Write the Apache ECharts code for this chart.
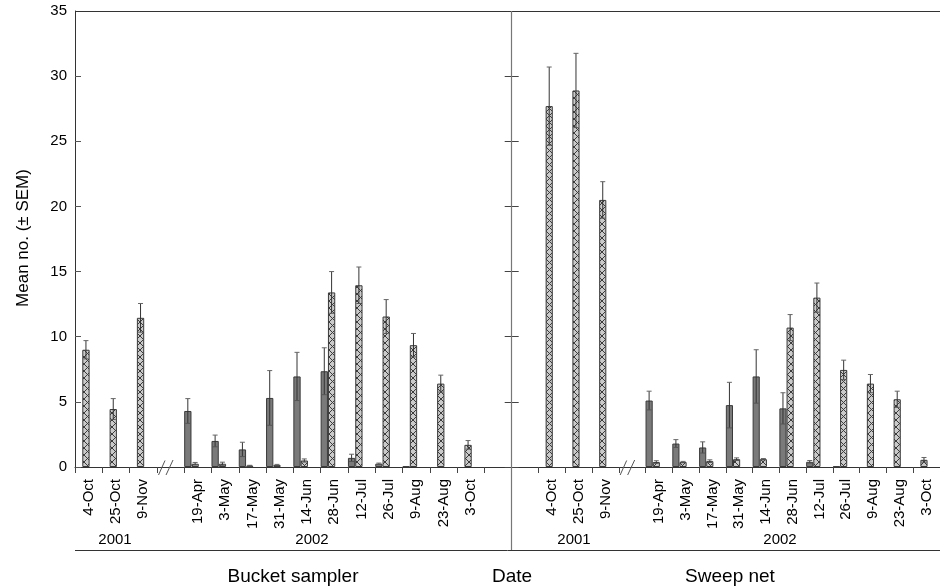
<!DOCTYPE html>
<html><head><meta charset="utf-8">
<script src="https://cdn.jsdelivr.net/npm/echarts@6/dist/echarts.min.js"></script>
<style>html,body{margin:0;padding:0;background:#fff}#c{width:940px;height:588px}</style>
</head><body><div id="c"></div><script>
// ---- data ----
const bucketCategories = ['4-Oct','25-Oct','9-Nov','','19-Apr','3-May','17-May','31-May','14-Jun','28-Jun','12-Jul','26-Jul','9-Aug','23-Aug','3-Oct',''];
const sweepCategories  = ['','4-Oct','25-Oct','9-Nov','','19-Apr','3-May','17-May','31-May','14-Jun','28-Jun','12-Jul','26-Jul','9-Aug','23-Aug','3-Oct'];

const bucketDark       = [null,null,null,null,4.3,2.0,1.35,5.3,6.95,7.35,0.7,0.25,0.05,null,null,null];
const bucketDarkSem    = [null,null,null,null,0.95,0.45,0.55,2.1,1.85,1.8,0.28,0.05,0,null,null,null];
const bucketHatched    = [9.0,4.45,11.45,null,0.25,0.25,0.1,0.15,0.5,13.4,13.95,11.55,9.35,6.4,1.7,null];
const bucketHatchedSem = [0.7,0.8,1.1,null,0.1,0.12,0.03,0.05,0.12,1.6,1.4,1.3,0.9,0.65,0.33,null];

const sweepDark        = [null,null,null,null,null,5.1,1.8,1.5,4.75,6.95,4.5,0.4,0.05,null,null,null];
const sweepDarkSem     = [null,null,null,null,null,0.72,0.3,0.43,1.75,2.05,1.2,0.1,0,null,null,null];
const sweepHatched     = [null,27.7,28.9,20.5,null,0.38,0.38,0.45,0.6,0.6,10.7,13.0,7.45,6.4,5.2,0.55];
const sweepHatchedSem  = [null,3.0,2.85,1.4,null,0.1,0.05,0.1,0.1,0.05,1.0,1.12,0.75,0.7,0.62,0.18];

const bucketBreakIndex = 3;
const sweepBreakIndex = 4;
const yMin = 0, yMax = 35, yStep = 5;
const yearLabels = ['2001','2002','2001','2002'];
const panelTitles = ['Bucket sampler','Date','Sweep net'];
const yTitle = 'Mean no. (\u00B1 SEM)';

// ---- styling ----
const FONT = "'Liberation Sans', Arial, Helvetica, sans-serif";
const BAR_FRAC = 0.2675; // bar width as fraction of category band
function hatch(){
  const c = document.createElement('canvas'); c.width = 7; c.height = 7;
  const g = c.getContext('2d');
  g.fillStyle = '#cacaca'; g.fillRect(0,0,7,7);
  g.strokeStyle = '#3c3c3c'; g.lineWidth = 1;
  g.beginPath(); g.moveTo(0,0); g.lineTo(7,7); g.moveTo(7,0); g.lineTo(0,7); g.stroke();
  return c;
}
const hatchFill = {image: hatch(), repeat: 'repeat'};

function errData(vals, sems){
  const out = [];
  vals.forEach((v,i)=>{ if(v!=null && sems[i]!=null && sems[i]>0) out.push([i, v, sems[i]]); });
  return out;
}
function errSeries(vals, sems, k, xi, yi){
  return {
    type:'custom', xAxisIndex:xi, yAxisIndex:yi, silent:true, z:5,
    data: errData(vals, sems),
    renderItem: function(params, api){
      const i = api.value(0), v = api.value(1), s = api.value(2);
      const c = api.coord([i, v]);
      const band = api.size([1,0])[0];
      const bw = band*BAR_FRAC;
      const x = c[0] - band/2 + bw*(k+0.5);
      const top = api.coord([i, v+s])[1];
      const bot = api.coord([i, Math.max(v-s,0)])[1];
      const st = {stroke:'#333', lineWidth:1};
      return {type:'group', children:[
        {type:'line', shape:{x1:x, y1:top, x2:x, y2:bot}, style:st},
        {type:'line', shape:{x1:x-2.5, y1:top, x2:x+2.5, y2:top}, style:{stroke:'#666', lineWidth:1}},
        {type:'line', shape:{x1:x-2.5, y1:bot, x2:x+2.5, y2:bot}, style:{stroke:'#555', lineWidth:1}}
      ]};
    }
  };
}
function breakSeries(idx, xi, yi){
  return {
    type:'custom', xAxisIndex:xi, yAxisIndex:yi, silent:true, z:6,
    data:[[idx, 0]],
    renderItem: function(params, api){
      const c = api.coord([api.value(0), api.value(1)]);
      const st = {stroke:'#555', lineWidth:1};
      return {type:'group', children:[
        {type:'line', shape:{x1:c[0]-12, y1:c[1]+8, x2:c[0]-5.5, y2:c[1]-6.5}, style:st},
        {type:'line', shape:{x1:c[0]-4.5, y1:c[1]+8, x2:c[0]+2.5, y2:c[1]-7}, style:st}
      ]};
    }
  };
}
function barSeries(vals, fill, xi, yi){
  return {type:'bar', xAxisIndex:xi, yAxisIndex:yi, data:vals, barWidth:(BAR_FRAC*100)+'%', barGap:'0%',
    itemStyle:{color:fill, borderColor: '#3a3a3a', borderWidth:1}, silent:true, z:3};
}
function fillerSeries(n, xi, yi){
  return {type:'bar', xAxisIndex:xi, yAxisIndex:yi, data:new Array(n).fill(null),
    barWidth:((1-2*BAR_FRAC)*100)+'%', barGap:'0%', silent:true};
}
function xAxis(cats, gi){
  return {type:'category', gridIndex:gi, data:cats, boundaryGap:true,
    axisLine:{show:true, lineStyle:{color:'#333', width:1}},
    axisTick:{show:true, alignWithLabel:false, interval:0, length:6, lineStyle:{color:'#444'}},
    axisLabel:{interval:0, rotate:90, margin:12, fontSize:15, color:'#000', fontFamily:FONT},
    splitLine:{show:false}};
}

const chart = echarts.init(document.getElementById('c'), null, {renderer:'canvas'});
const band = 436.7;
chart.setOption({
  animation:false,
  backgroundColor:'#fff',
  grid:[
    {left:75, top:11, width:band, height:456},
    {left:75+band, top:11, width:band, height:456}
  ],
  xAxis:[xAxis(bucketCategories,0), xAxis(sweepCategories,1)],
  yAxis:[
    {type:'value', gridIndex:0, min:yMin, max:yMax, interval:yStep,
     axisLine:{show:true, lineStyle:{color:'#333'}},
     axisTick:{show:true, inside:true, length:6, lineStyle:{color:'#555'}},
     axisLabel:{fontSize:15, color:'#000', margin:8, fontFamily:FONT},
     splitLine:{show:false}},
    {type:'value', gridIndex:1, min:yMin, max:yMax, interval:yStep, position:'left',
     axisLine:{show:false}, axisTick:{show:true, inside:false, length:7, lineStyle:{color:'#444'}},
     axisLabel:{show:false}, splitLine:{show:false}},
    {type:'value', gridIndex:1, min:yMin, max:yMax, interval:yStep, position:'left', offset:0,
     axisLine:{show:false}, axisTick:{show:true, inside:true, length:7, lineStyle:{color:'#444'}},
     axisLabel:{show:false}, splitLine:{show:false}}
  ],
  series:[
    barSeries(bucketDark, '#7a7a7a', 0, 0),
    barSeries(bucketHatched, hatchFill, 0, 0),
    fillerSeries(bucketCategories.length, 0, 0),
    barSeries(sweepDark, '#7a7a7a', 1, 1),
    barSeries(sweepHatched, hatchFill, 1, 1),
    fillerSeries(sweepCategories.length, 1, 1),
    errSeries(bucketDark, bucketDarkSem, 0, 0, 0),
    errSeries(bucketHatched, bucketHatchedSem, 1, 0, 0),
    errSeries(sweepDark, sweepDarkSem, 0, 1, 1),
    errSeries(sweepHatched, sweepHatchedSem, 1, 1, 1),
    breakSeries(bucketBreakIndex, 0, 0),
    breakSeries(sweepBreakIndex, 1, 1)
  ],
  graphic:[
    {type:'line', shape:{x1:75, y1:11.5, x2:940, y2:11.5}, style:{stroke:'#333', lineWidth:1}, z:10},
    {type:'line', shape:{x1:511.5, y1:11, x2:511.5, y2:551}, style:{stroke:'#777', lineWidth:1.2}, z:10},
    {type:'line', shape:{x1:75, y1:550.5, x2:940, y2:550.5}, style:{stroke:'#333', lineWidth:1}, z:10},
    {type:'text', x:115, y:540, style:{text:yearLabels[0], font:'15px '+FONT, fill:'#000', textAlign:'center', textVerticalAlign:'middle'}},
    {type:'text', x:312, y:540, style:{text:yearLabels[1], font:'15px '+FONT, fill:'#000', textAlign:'center', textVerticalAlign:'middle'}},
    {type:'text', x:574, y:540, style:{text:yearLabels[2], font:'15px '+FONT, fill:'#000', textAlign:'center', textVerticalAlign:'middle'}},
    {type:'text', x:780, y:540, style:{text:yearLabels[3], font:'15px '+FONT, fill:'#000', textAlign:'center', textVerticalAlign:'middle'}},
    {type:'text', x:293, y:577, style:{text:panelTitles[0], font:'19px '+FONT, fill:'#000', textAlign:'center', textVerticalAlign:'middle'}},
    {type:'text', x:512, y:577, style:{text:panelTitles[1], font:'19px '+FONT, fill:'#000', textAlign:'center', textVerticalAlign:'middle'}},
    {type:'text', x:730, y:577, style:{text:panelTitles[2], font:'19px '+FONT, fill:'#000', textAlign:'center', textVerticalAlign:'middle'}},
    {type:'text', x:23, y:238, rotation:Math.PI/2, style:{text:yTitle, font:'17px '+FONT, fill:'#000', textAlign:'center', textVerticalAlign:'middle'}}
  ]
});
</script></body></html>
